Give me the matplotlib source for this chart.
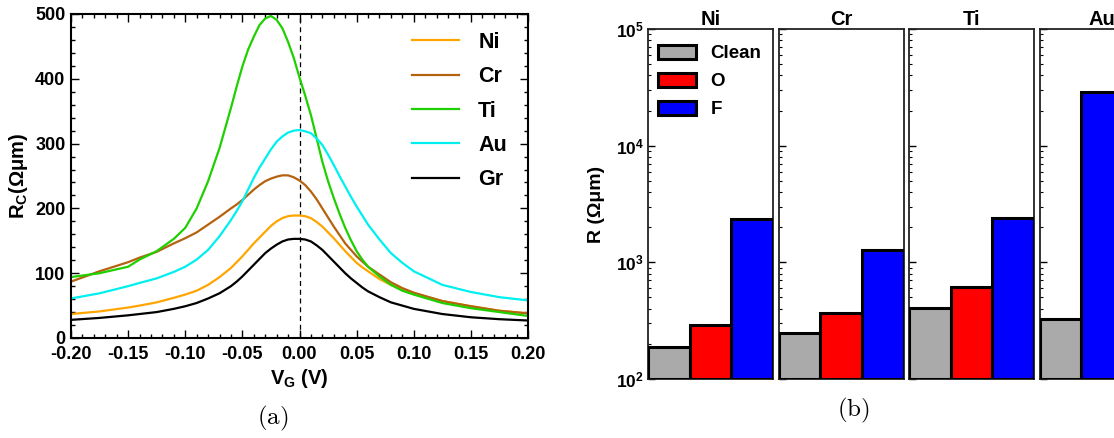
import numpy as np
import matplotlib
matplotlib.use("Agg")
import matplotlib.pyplot as plt
from matplotlib.ticker import MultipleLocator, LogLocator, NullFormatter, FixedLocator
from matplotlib.patches import Patch

plt.rcParams['font.family'] = ['Liberation Sans', 'DejaVu Sans']
plt.rcParams['font.weight'] = 'bold'
plt.rcParams['mathtext.fontset'] = 'custom'
plt.rcParams['mathtext.rm'] = 'Liberation Sans:bold'
plt.rcParams['mathtext.bf'] = 'Liberation Sans:bold'
plt.rcParams['mathtext.it'] = 'Liberation Sans:bold'

# ---------------- panel (a) data ----------------
vg = [-0.2, -0.175, -0.15, -0.14, -0.125, -0.11, -0.1, -0.09, -0.08, -0.07, -0.06, -0.055,
      -0.05, -0.045, -0.04, -0.035, -0.03, -0.025, -0.02, -0.015, -0.01, -0.005, 0.0,
      0.005, 0.01, 0.015, 0.02, 0.025, 0.03, 0.035, 0.04, 0.045, 0.05, 0.055,
      0.06, 0.07, 0.08, 0.09, 0.1, 0.125, 0.15, 0.175, 0.2]
rc_ni = [37, 41, 47, 50, 55, 62, 67, 73, 82, 94, 108, 117, 126, 136, 146, 155, 164, 173,
         180, 185, 188, 189, 189, 188, 185, 179, 172, 163, 154, 144, 134, 125, 116, 109,
         103, 91, 82, 75, 69, 57, 49, 42, 38]
rc_cr = [87, 103, 117, 124, 133, 146, 154, 163, 175, 187, 200, 206, 213, 221, 229, 236,
         242, 246, 249, 251, 251, 248, 243, 236, 226, 214, 200, 186, 172, 159, 146, 136,
         126, 118, 110, 98, 86, 77, 70, 57, 49, 42, 38]
rc_ti = [94, 100, 110, 121, 134, 153, 170, 200, 242, 293, 355, 388, 419, 445, 465, 483,
         493, 497, 491, 478, 457, 432, 402, 374, 344, 308, 272, 242, 216, 192, 170, 151,
         134, 121, 110, 95, 82, 73, 67, 54, 46, 40, 34]
rc_au = [61, 69, 80, 85, 92, 102, 110, 121, 136, 157, 182, 196, 211, 229, 247, 263, 277,
         291, 303, 311, 317, 320, 321, 319, 316, 308, 298, 283, 267, 250, 234, 218, 203,
         189, 175, 152, 131, 116, 103, 82, 71, 63, 58]
rc_gr = [28, 31, 35, 37, 40, 45, 49, 54, 61, 69, 80, 87, 95, 104, 113, 122, 131, 138, 144,
         149, 152, 153, 153, 152, 149, 143, 136, 127, 118, 109, 100, 92, 85, 78, 72, 63,
         55, 50, 45, 37, 32, 29, 27]
labels_a = ['Ni', 'Cr', 'Ti', 'Au', 'Gr']
colors_a = ['#FFA500', '#B5620F', '#1FD000', '#00F0F0', '#000000']
x_ticks_a = [-0.20, -0.15, -0.10, -0.05, 0.00, 0.05, 0.10, 0.15, 0.20]
y_ticks_a = [0, 100, 200, 300, 400, 500]

# ---------------- panel (b) data ----------------
metals_b = ['Ni', 'Cr', 'Ti', 'Au']
r_clean = [189, 246, 404, 324]
r_oxygen = [290, 365, 610, np.nan]
r_fluorine = [2340, 1275, 2385, 29000]
series_b = ['Clean', 'O', 'F']
colors_b = ['#AAAAAA', '#FF0000', '#0000FF']

W, H = 1114, 438
fig = plt.figure(figsize=(W / 100, H / 100), dpi=100)

# ---------------- panel (a) ----------------
axa = fig.add_axes([71 / W, 1 - 338 / H, 457 / W, 324 / H])
for vals, lab, col in zip([rc_ni, rc_cr, rc_ti, rc_au, rc_gr], labels_a, colors_a):
    axa.plot(vg, vals, color=col, lw=1.6, label=lab, solid_joinstyle='round')
axa.axvline(0, color='black', lw=0.9, ls=(0, (4, 3)), zorder=0)
axa.set_xlim(-0.2, 0.2)
axa.set_ylim(0, 500)
axa.xaxis.set_major_locator(FixedLocator(x_ticks_a))
axa.yaxis.set_major_locator(FixedLocator(y_ticks_a))
axa.xaxis.set_minor_locator(MultipleLocator(0.01))
axa.yaxis.set_minor_locator(MultipleLocator(20))
axa.set_xticklabels(['%.2f' % t for t in x_ticks_a])
axa.set_yticklabels([str(t) for t in y_ticks_a])
axa.tick_params(which='both', direction='in', top=True, right=True, labelsize=13, width=1.0)
axa.tick_params(axis='x', which='major', length=6, pad=6)
axa.tick_params(axis='y', which='major', length=6, pad=4)
axa.tick_params(which='minor', length=3)
for t in axa.get_xticklabels() + axa.get_yticklabels():
    t.set_fontweight('bold')
for s in axa.spines.values():
    s.set_linewidth(1.5)
axa.set_xlabel(r'V$_\mathrm{G}$ (V)', fontsize=14.5, fontweight='bold', labelpad=3)
axa.set_ylabel(r'R$_\mathrm{C}$(Ωμm)', fontsize=14.5, fontweight='bold', labelpad=4)
leg = axa.legend(loc='upper left', frameon=False, fontsize=15.5, handlelength=2.2,
                 handletextpad=0.88, labelspacing=0.62, borderpad=0, borderaxespad=0,
                 bbox_to_anchor=(0.746, 0.945))
for t in leg.get_texts():
    t.set_fontweight('bold')

fig.text(273 / W, 1 - 418 / H, r'$(\mathrm{a})$', fontsize=18, ha='center', va='center',
         math_fontfamily='cm')

# ---------------- panel (b) ----------------
bot = 100
pw = 125
step = 130.5
left0 = 648
for i, m in enumerate(metals_b):
    ax = fig.add_axes([(left0 + i * step) / W, 1 - 379 / H, pw / W, 350 / H])
    ax.set_yscale('log')
    ax.set_ylim(1e2, 1e5)
    ax.set_xlim(-0.5, 2.5)
    vals = [r_clean[i], r_oxygen[i], r_fluorine[i]]
    pos = 0
    for v, c in zip(vals, colors_b):
        if np.isnan(v):
            continue
        ax.bar(pos, v - bot, bottom=bot, width=1.0, color=c, edgecolor='black',
               linewidth=2.2, zorder=3, clip_on=True)
        pos += 1
    ax.set_xticks([])
    ax.yaxis.set_major_locator(LogLocator(base=10, numticks=10))
    ax.yaxis.set_minor_locator(LogLocator(base=10, subs=np.arange(2, 10), numticks=10))
    ax.yaxis.set_minor_formatter(NullFormatter())
    ax.tick_params(axis='y', which='both', direction='in', right=False, labelsize=12.5)
    ax.tick_params(axis='y', which='major', length=5, width=1.0, pad=3)
    ax.tick_params(axis='y', which='minor', length=2.5, width=0.8)
    for s in ax.spines.values():
        s.set_linewidth(1.3)
        s.set_color('#222222')
    ax.set_title(m, fontsize=14.5, fontweight='bold', pad=3)
    if i == 0:
        ax.set_ylabel('R (Ωμm)', fontsize=14, fontweight='bold', labelpad=8)
        for t in ax.get_yticklabels():
            t.set_fontweight('bold')
        handles = [Patch(facecolor=c, edgecolor='black', linewidth=2.2) for c in colors_b]
        lg = ax.legend(handles, series_b, loc='upper left', frameon=False, fontsize=13.5,
                       handlelength=2.0, handleheight=0.8, handletextpad=0.8,
                       labelspacing=0.55, borderpad=0, borderaxespad=0,
                       bbox_to_anchor=(0.08, 0.955))
        for t in lg.get_texts():
            t.set_fontweight('bold')
    else:
        ax.tick_params(axis='y', which='both', labelleft=False)

fig.text(853 / W, 1 - 410 / H, r'$(\mathrm{b})$', fontsize=18, ha='center', va='center',
         math_fontfamily='cm')

fig.savefig('out.png', dpi=100)
